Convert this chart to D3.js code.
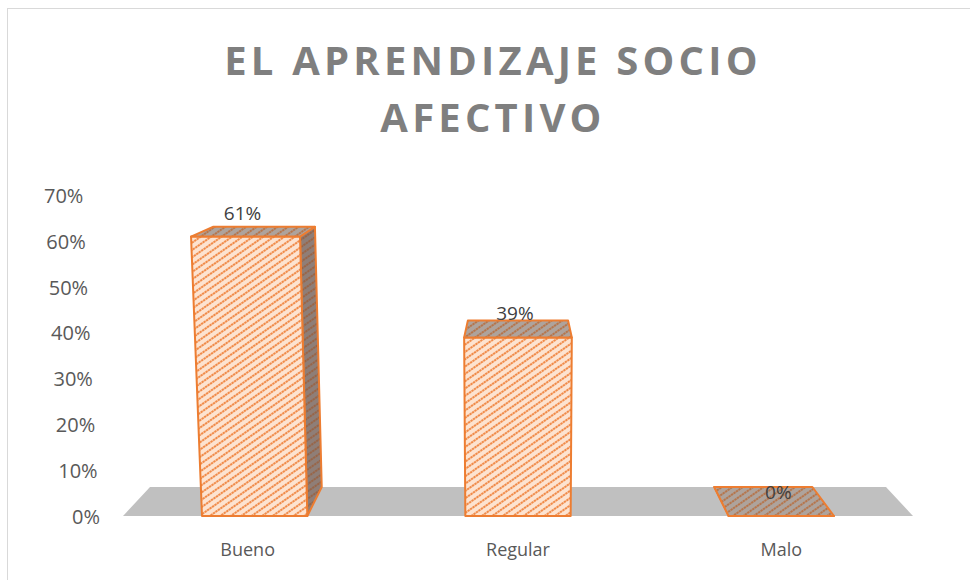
<!DOCTYPE html>
<html>
<head>
  <title>El aprendizaje socio afectivo</title>
  <script src="https://d3js.org/d3.v7.min.js"></script>
  <style>
    body { margin: 0; background: #fff; font-family: "Open Sans", sans-serif; }
    .title { font-size: 40px; font-weight: bold; fill: #7f7f7f; letter-spacing: 4.2px; text-anchor: middle; }
    .tick-label { font-size: 20px; fill: #595959; text-anchor: end; dominant-baseline: central; }
    .cat-label { font-size: 18px; fill: #595959; text-anchor: middle; }
    .bar-label { font-size: 19px; fill: #404040; text-anchor: middle; }
    .edge { stroke: #ed7d31; stroke-width: 2; stroke-linejoin: round; }
  </style>
</head>
<body>
  <div id="chart"></div>
  <script>
    // data
    const titleLines = ["EL APRENDIZAJE SOCIO", "AFECTIVO"];
    const categories = ["Bueno", "Regular", "Malo"];
    const values = [0.61, 0.39, 0.00];
    const tickValues = [0, 0.1, 0.2, 0.3, 0.4, 0.5, 0.6, 0.7];
    const tickLabels = ["0%", "10%", "20%", "30%", "40%", "50%", "60%", "70%"];
    const valueLabels = ["61%", "39%", "0%"];

    const W = 970, H = 580;
    const floorY = 516;

    const svg = d3.select("#chart").append("svg")
      .attr("width", W).attr("height", H);

    // hatch patterns (front, top, side)
    const defs = svg.append("defs");
    function hatch(id, bg, fg) {
      const p = defs.append("pattern")
        .attr("id", id)
        .attr("patternUnits", "userSpaceOnUse")
        .attr("width", 6).attr("height", 6)
        .attr("patternTransform", "rotate(-35)");
      p.append("rect").attr("width", 6).attr("height", 6).attr("fill", bg);
      p.append("line")
        .attr("x1", 0).attr("y1", 3).attr("x2", 6).attr("y2", 3)
        .attr("stroke", fg).attr("stroke-width", 2)
        .attr("stroke-dasharray", "2.4 0.6");
    }
    hatch("hFront", "#fde3d0", "#f08a48");
    hatch("hTop", "#aea39c", "#b5754c");
    hatch("hSide", "#8f7e77", "#986548");

    // scales
    const x = d3.scaleBand()
      .domain(categories)
      .range([123, 913])
      .paddingInner(0.6)
      .paddingOuter(0.3);

    const y = d3.scaleLinear()
      .domain([0, 0.7])
      .range([floorY, floorY - 0.7 * 458]);

    // simple perspective: depth lines run to VP, verticals spread from VV
    const VP = {x: 518, y: 92}, DEPTH = 0.0684;
    const VV = {x: 519, y: 8600};
    function proj(X, v, z) {
      const yh = y(v);
      const k = (yh - VV.y) / (floorY - VV.y);
      const xh = VV.x + (X - VV.x) * k;
      return [xh + (VP.x - xh) * DEPTH * z, yh + (VP.y - yh) * DEPTH * z];
    }
    const poly = pts => pts.map(p => p.join(",")).join(" ");

    // chart border
    svg.append("rect")
      .attr("x", 7.5).attr("y", 8.5)
      .attr("width", W).attr("height", H)
      .attr("fill", "none").attr("stroke", "#d9d9d9");

    // title
    titleLines.forEach((t, i) => {
      svg.append("text")
        .attr("class", "title")
        .attr("x", 493)
        .attr("y", 75 + i * 57)
        .text(t);
    });

    // floor
    const [r0, r1] = x.range();
    svg.append("polygon")
      .attr("points", poly([proj(r0, 0, 0), proj(r1, 0, 0), proj(r1, 0, 1), proj(r0, 0, 1)]))
      .attr("fill", "#c0c0c0");

    // y tick labels, following the slanted left edge
    svg.selectAll(".tick-label")
      .data(tickValues)
      .join("text")
        .attr("class", "tick-label")
        .attr("x", d => proj(100, d, 0)[0])
        .attr("y", d => proj(100, d, 0)[1])
        .text((d, i) => tickLabels[i]);

    // bars
    categories.forEach((c, i) => {
      const v = values[i];
      const x0 = x(c), x1 = x(c) + x.bandwidth();
      const g = svg.append("g").attr("class", "bar");
      const fl0 = proj(x0, 0, 0), fr0 = proj(x1, 0, 0);
      const fl1 = proj(x0, v, 0), fr1 = proj(x1, v, 0);
      const bl0 = proj(x0, 0, 1), br0 = proj(x1, 0, 1);
      const bl1 = proj(x0, v, 1), br1 = proj(x1, v, 1);

      if (x1 < VP.x - 5) {
        g.append("polygon").attr("class", "edge")
          .attr("points", poly([fr0, br0, br1, fr1]))
          .attr("fill", "url(#hSide)");
      } else if (x0 > VP.x + 5) {
        g.append("polygon").attr("class", "edge")
          .attr("points", poly([fl0, bl0, bl1, fl1]))
          .attr("fill", "url(#hSide)");
      }
      g.append("polygon").attr("class", "edge")
        .attr("points", poly([fl0, fr0, fr1, fl1]))
        .attr("fill", "url(#hFront)");
      g.append("polygon").attr("class", "edge")
        .attr("points", poly([fl1, fr1, br1, bl1]))
        .attr("fill", "url(#hTop)");
    });

    // value labels
    svg.selectAll(".bar-label")
      .data(categories)
      .join("text")
        .attr("class", "bar-label")
        .attr("x", (d, i) => proj(x(d) + x.bandwidth() / 2, values[i], 0)[0] - 3)
        .attr("y", (d, i) => proj(x(d) + x.bandwidth() / 2, values[i], 0)[1] - 17)
        .text((d, i) => valueLabels[i]);

    // category labels
    svg.selectAll(".cat-label")
      .data(categories)
      .join("text")
        .attr("class", "cat-label")
        .attr("x", (d, i) => x(d) + x.bandwidth() / 2 - (i === 0 ? 7 : 0))
        .attr("y", 556)
        .text(d => d);
  </script>
</body>
</html>
